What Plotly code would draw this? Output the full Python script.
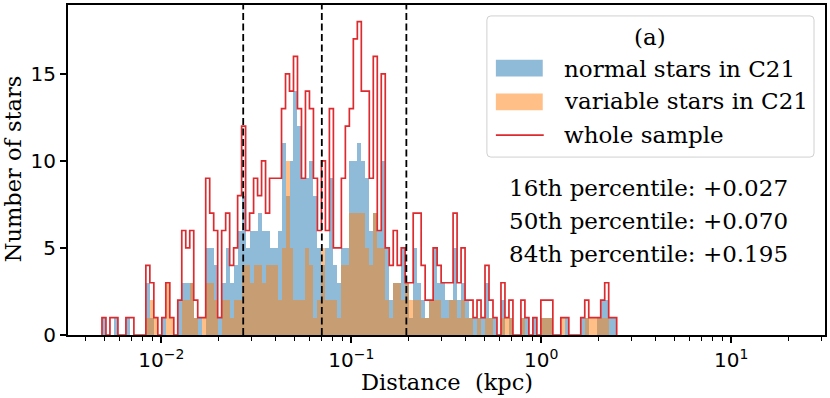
import numpy as np
import plotly.graph_objects as go

# ---------------- data ----------------
log_start = -2.312      # log10 of first bin's left edge (kpc)
log_width = 0.021       # bin width in dex

whole = [1,0,1,1,0,0,1,1,0,0, 0,4,3,1,0,1,3,1,0,2,
         6,5,6,2,1,1,9,7,6,1, 6,7,4,5,8,12,6,7,9,8,
         10,7,9,9,9,13,15,14,16,13, 9,14,13,9,6,10,6,13,5,5,
         9,12,13,17,18,14,14,9,16,6, 15,5,4,6,4,5,3,3,7,7,
         4,2,2,5,4,3,3,3,7,3, 5,2,2,1,2,1,4,2,1,0,
         3,1,2,0,0,2,1,0,1,0, 2,2,2,0,0,1,1,0,0,0,
         1,2,1,1,1,2,3,1,1]
normal = [1,0,0,1,0,0,1,0,0,0, 0,3,1,0,0,1,0,0,0,2,
          3,3,3,1,1,0,5,5,4,1, 3,5,3,4,6,8,5,6,6,7,
          6,6,5,5,6,11,8,10,14,12, 9,9,10,8,5,4,5,9,4,3,
          5,5,10,10,11,10,9,6,7,6, 10,5,2,3,3,5,3,1,5,3,
          2,1,2,5,3,3,2,2,5,2, 3,2,1,1,1,1,3,1,1,0,
          2,0,1,0,0,1,1,0,1,0, 1,1,1,0,0,0,1,0,0,0,
          1,1,0,0,1,2,2,1,1]
variable = [0,0,0,0,0,0,0,0,0,0, 0,1,2,1,0,0,3,1,0,0,
            2,2,3,1,0,1,3,3,2,0, 2,2,1,2,2,4,4,3,4,4,
            3,4,4,4,2,5,10,5,2,2, 2,5,4,1,2,5,2,2,2,1,
            4,4,7,7,7,7,5,4,7,5, 5,2,1,3,3,2,3,2,2,2,
            1,1,2,2,2,1,1,2,2,1, 2,1,1,0,1,0,1,1,0,0,
            1,1,1,0,0,1,0,0,0,0, 1,1,1,0,0,1,0,0,0,0,
            0,1,1,1,1,1,1,0,0]

percentiles = [0.027, 0.070, 0.195]
percentile_names = ["16th", "50th", "84th"]
legend_title = "(a)"
legend_labels = ["normal stars in C21", "variable stars in C21", "whole sample"]
x_ticks = [-2, -1, 0, 1]
y_ticks = [0, 5, 10, 15]

# ---------------- geometry helpers ----------------
W, H = 830, 398
L, R, T, B = 68, 827, 3, 335
X_RANGE = [-2.4908, 1.4934]
Y_RANGE = [0, 18.95]
SERIF = "DejaVu Serif"
SANS = "DejaVu Sans"
TXT = 23
LAB = 22.5

def px(x):
    return (x - L) / (R - L)

def py(y):
    return (B - y) / (B - T)

BLUE = "rgba(31,119,180,0.5)"
ORANGE = "rgba(255,127,14,0.5)"
RED = "#dc2a2e"

n = len(whole)
edges = log_start + log_width * np.arange(n + 1)
centers = edges[:-1] + log_width / 2

fig = go.Figure()
fig.add_bar(x=centers, y=normal, width=log_width,
            marker=dict(color=BLUE, line=dict(width=0)), showlegend=False)
fig.add_bar(x=centers, y=variable, width=log_width,
            marker=dict(color=ORANGE, line=dict(width=0)), showlegend=False)

step_x = [edges[0]] + list(edges[:-1]) + [edges[-1]]
step_y = [0] + list(whole) + [0]
fig.add_scatter(x=step_x, y=step_y, mode="lines", line=dict(color=RED, width=1.7, shape="hv"),
                showlegend=False)

# percentile dashed lines
for p in percentiles:
    fig.add_shape(type="line", xref="x", yref="paper", x0=np.log10(p), x1=np.log10(p),
                  y0=0, y1=1, line=dict(color="black", width=1.8, dash="7px,3.5px"))

# minor ticks for log axis
minor_vals = []
for d in range(-3, 2):
    for m in range(2, 10):
        v = np.log10(m) + d
        if X_RANGE[0] < v < X_RANGE[1]:
            minor_vals.append(v)

fig.update_layout(
    width=W, height=H,
    margin=dict(l=L, r=W - R, t=T, b=H - B),
    paper_bgcolor="white", plot_bgcolor="white",
    barmode="overlay", bargap=0,
    font=dict(family=SERIF, color="black", size=20),
    xaxis=dict(range=X_RANGE, showgrid=False, zeroline=False,
               showline=True, linecolor="black", linewidth=2, mirror=True,
               ticks="outside", ticklen=6, tickwidth=1.5, tickcolor="black",
               tickvals=x_ticks,
               ticktext=["10<sup>\u22122</sup>", "10<sup>\u22121</sup>", "10<sup>0</sup>", "10<sup>1</sup>"],
               tickfont=dict(family=SANS, size=20),
               minor=dict(tickvals=minor_vals, ticks="outside", ticklen=3.5, tickwidth=1.2,
                          tickcolor="black", showgrid=False)),
    yaxis=dict(range=Y_RANGE, showgrid=False, zeroline=False,
               showline=True, linecolor="black", linewidth=2, mirror=True,
               ticks="outside", ticklen=6, tickwidth=1.5, tickcolor="black",
               tickvals=y_ticks, tickfont=dict(family=SANS, size=20)),
)

# axis titles
fig.add_annotation(xref="paper", yref="paper", x=px(447.5), y=py(382),
                   text="Distance\u00a0\u00a0(kpc)", showarrow=False,
                   font=dict(size=LAB), xanchor="center", yanchor="middle")
fig.add_annotation(xref="paper", yref="paper", x=px(13), y=py(168),
                   text="Number of stars", showarrow=False, textangle=-90,
                   font=dict(size=LAB), xanchor="center", yanchor="middle")

# legend box (rounded)
x0, x1, y0, y1, r = px(488), px(816), py(14), py(156), 4
rx, ry = r / (R - L), r / (B - T)
path = (f"M {x0+rx},{y0} L {x1-rx},{y0} Q {x1},{y0} {x1},{y0-ry} "
        f"L {x1},{y1+ry} Q {x1},{y1} {x1-rx},{y1} L {x0+rx},{y1} "
        f"Q {x0},{y1} {x0},{y1+ry} L {x0},{y0-ry} Q {x0},{y0} {x0+rx},{y0} Z")
fig.add_shape(type="path", xref="paper", yref="paper", path=path,
              fillcolor="rgba(255,255,255,0.8)", line=dict(color="#d0d0d0", width=1))
fig.add_annotation(xref="paper", yref="paper", x=px(652), y=py(35), text=legend_title,
                   showarrow=False, font=dict(size=TXT), xanchor="center", yanchor="middle")
fig.add_shape(type="rect", xref="paper", yref="paper", x0=px(497), x1=px(544),
              y0=py(75), y1=py(58), fillcolor=BLUE, line=dict(width=0))
fig.add_shape(type="rect", xref="paper", yref="paper", x0=px(497), x1=px(544),
              y0=py(109), y1=py(92), fillcolor=ORANGE, line=dict(width=0))
fig.add_shape(type="line", xref="paper", yref="paper", x0=px(497), x1=px(545),
              y0=py(134), y1=py(134), line=dict(color=RED, width=1.7))
for lab, yc in zip(legend_labels, [67, 100, 134]):
    fig.add_annotation(xref="paper", yref="paper", x=px(563), y=py(yc), text=lab,
                       showarrow=False, font=dict(size=TXT), xanchor="left", yanchor="middle")

# percentile text
for name, p, yc in zip(percentile_names, percentiles, [187, 220, 254]):
    fig.add_annotation(xref="paper", yref="paper", x=px(650), y=py(yc),
                       text=f"{name} percentile: +{p:.3f}", showarrow=False,
                       font=dict(size=TXT), xanchor="center", yanchor="middle")

fig.write_html("out.html", config={"displayModeBar": False},
               post_script="document.body.style.margin='0px';")
